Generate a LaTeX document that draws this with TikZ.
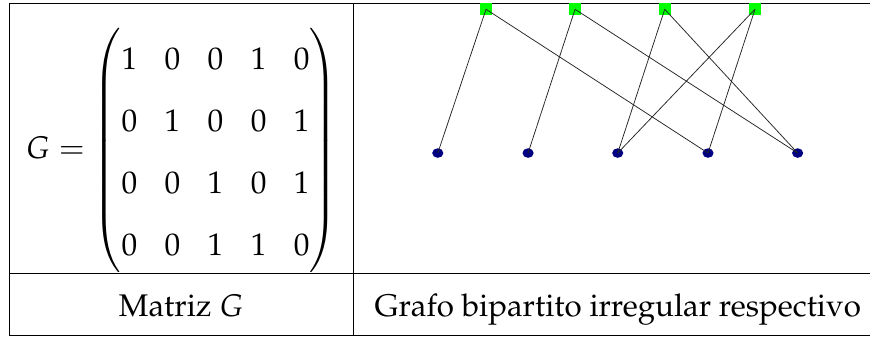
\documentclass[tikz,border=0pt]{standalone}
\usepackage[T1]{fontenc}
\usepackage{amsmath}
\usepackage{mathpazo}
\usepackage{tikz}
\usetikzlibrary{positioning,shapes.geometric}
\definecolor{vgreen}{RGB}{0,255,0}
\definecolor{cnavy}{RGB}{0,0,128}
\tikzset{
  rule/.style={line width=0.5pt, draw=black},
  vnd/.style={rectangle, fill=vgreen, minimum size=0.19cm, inner sep=0pt},
  cnd/.style={ellipse, fill=cnavy, minimum width=0.18cm, minimum height=0.155cm, inner sep=0pt},
  lnk/.style={line width=0.35pt, draw=black!85},
  lbl/.style={font=\fontsize{14.4}{18}\selectfont, inner sep=0pt, anchor=base},
}

\begin{document}
\begin{tikzpicture}
  \useasboundingbox (0,0) rectangle (14.07,5.45);
  % table rules
  \draw[rule] (14.07,5.40) -- (0.16,5.40) -- (0.16,0.02) -- (14.07,0.02);
  \draw[rule] (0.16,1.02) -- (14.07,1.02);
  \draw[rule] (5.72,5.40) -- (5.72,0.02);
  % left cell: the matrix
  \node[inner sep=0pt] (mat) at (2.94,3.02) {\fontsize{14.4}{18}\selectfont
    \renewcommand{\arraystretch}{1.58}\setlength{\arraycolsep}{6.3pt}%
    $G = \begin{pmatrix}
      1 & 0 & 0 & 1 & 0\\
      0 & 1 & 0 & 0 & 1\\
      0 & 0 & 1 & 0 & 1\\
      0 & 0 & 1 & 1 & 0
    \end{pmatrix}$};
  % right cell: the graph
  \foreach \x/\n in {7.86/v1, 9.30/v2, 10.75/v3, 12.21/v4}
    \node[vnd] (\n) at (\x,5.30) {};
  \foreach \x/\n in {7.08/c1, 8.54/c2, 9.99/c3, 11.45/c4, 12.90/c5}
    \node[cnd] (\n) at (\x,2.975) {};
  \foreach \a/\b in {v1/c1, v1/c4, v2/c2, v2/c5, v3/c3, v3/c5, v4/c3, v4/c4}
    \draw[lnk] (\a.center) -- (\b.center);
  % captions
  \node[lbl] (capl) at (2.93,0.325) {Matriz $G$};
  \node[lbl] (capr) at (9.99,0.325) {Grafo bipartito irregular respectivo};
\end{tikzpicture}
\end{document}
